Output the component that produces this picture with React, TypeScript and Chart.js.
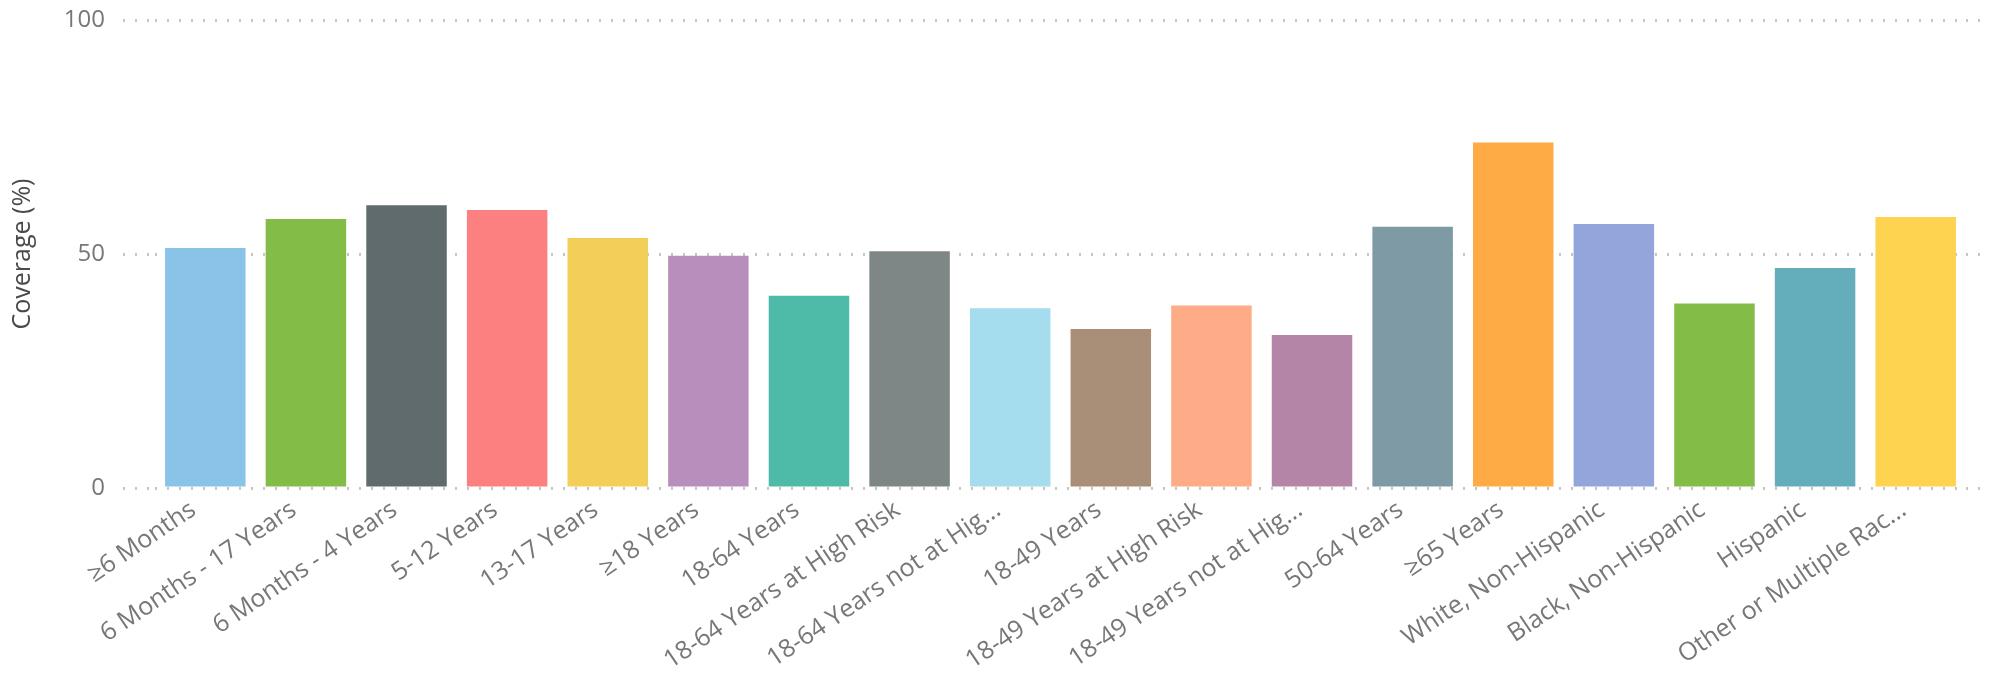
import React, { useEffect, useRef } from 'react';
import { Chart, registerables } from 'chart.js';

Chart.register(...registerables);

const categories = [
  '≥6 Months',
  '6 Months - 17 Years',
  '6 Months - 4 Years',
  '5-12 Years',
  '13-17 Years',
  '≥18 Years',
  '18-64 Years',
  '18-64 Years at High Risk',
  '18-64 Years not at Hig...',
  '18-49 Years',
  '18-49 Years at High Risk',
  '18-49 Years not at Hig...',
  '50-64 Years',
  '≥65 Years',
  'White, Non-Hispanic',
  'Black, Non-Hispanic',
  'Hispanic',
  'Other or Multiple Rac...',
];

const coverage = [51.3, 57.5, 60.4, 59.4, 53.4, 49.6, 41.1, 50.6, 38.4, 34.0, 39.0, 32.7, 55.8, 73.8, 56.4, 39.4, 47.0, 57.9];

const barColors = [
  '#8AC3E8', '#84BC48', '#5F6B6D', '#FD8080', '#F3CF5A', '#B88FBC',
  '#4DBBA8', '#7F8786', '#A5DCEE', '#A98E78', '#FEAB87', '#B585A8',
  '#7E9BA5', '#FEAA45', '#94A5DC', '#84BC48', '#64AEBB', '#FED34F',
];

const yTicks = [0, 50, 100];

const FONT = '"Open Sans", "Noto Sans", sans-serif';
const GRID = '#c6c6c6';

export default function App() {
  const ref = useRef<HTMLCanvasElement>(null);
  useEffect(() => {
    if (!ref.current) return;
    document.documentElement.style.overflow = 'hidden';
    const setTicks = (s: any) => {
      s.ticks = yTicks.map((v) => ({ value: v }));
    };
    const chart = new Chart(ref.current, {
      type: 'bar',
      data: {
        labels: categories,
        datasets: [
          {
            data: coverage,
            backgroundColor: barColors,
            barPercentage: 0.8,
            categoryPercentage: 1,
          },
        ],
      },
      options: {
        animation: false,
        responsive: true,
        maintainAspectRatio: false,
        layout: { padding: { top: 0 } },
        plugins: { legend: { display: false }, tooltip: { enabled: false } },
        scales: {
          x: {
            grid: { display: false, drawTicks: false },
            border: { display: false },
            ticks: {
              autoSkip: false,
              minRotation: 34,
              maxRotation: 34,
              padding: 7,
              labelOffset: -12,
              color: '#777777',
              font: { family: FONT, size: 25 },
            },
            afterFit: (s: any) => {
              s.height = 186;
              s.paddingTop = 0;
            },
          },
          y: {
            min: 0,
            max: 100,
            afterBuildTicks: setTicks,
            grid: {
              color: GRID,
              lineWidth: 3,
              tickLength: 32,
              tickColor: GRID,
              tickWidth: 3,
              tickBorderDash: [2, 10],
            },
            border: { display: false, dash: [2, 10] },
            ticks: {
              padding: 18,
              color: '#777777',
              font: { family: FONT, size: 24 },
            },
            title: {
              display: true,
              text: 'Coverage (%)',
              color: '#4a4a4a',
              font: { family: FONT, size: 25 },
              padding: { top: 0, bottom: 0 },
            },
            afterFit: (s: any) => {
              s.width = 147;
              s.paddingTop = 12;
              s.paddingBottom = 0;
            },
          },
          y2: {
            position: 'right',
            min: 0,
            max: 100,
            afterBuildTicks: setTicks,
            grid: {
              drawOnChartArea: false,
              color: GRID,
              lineWidth: 3,
              tickLength: 22,
              tickColor: GRID,
              tickWidth: 3,
              tickBorderDash: [2, 10],
            },
            border: { display: false },
            ticks: { display: false },
            afterFit: (s: any) => {
              s.width = 24;
              s.paddingTop = 0;
              s.paddingBottom = 0;
            },
          },
        },
      },
    } as any);
    return () => chart.destroy();
  }, []);
  return (
    <div style={{ width: 1982, height: 666, marginBottom: -8 }}>
      <canvas ref={ref} />
    </div>
  );
}
